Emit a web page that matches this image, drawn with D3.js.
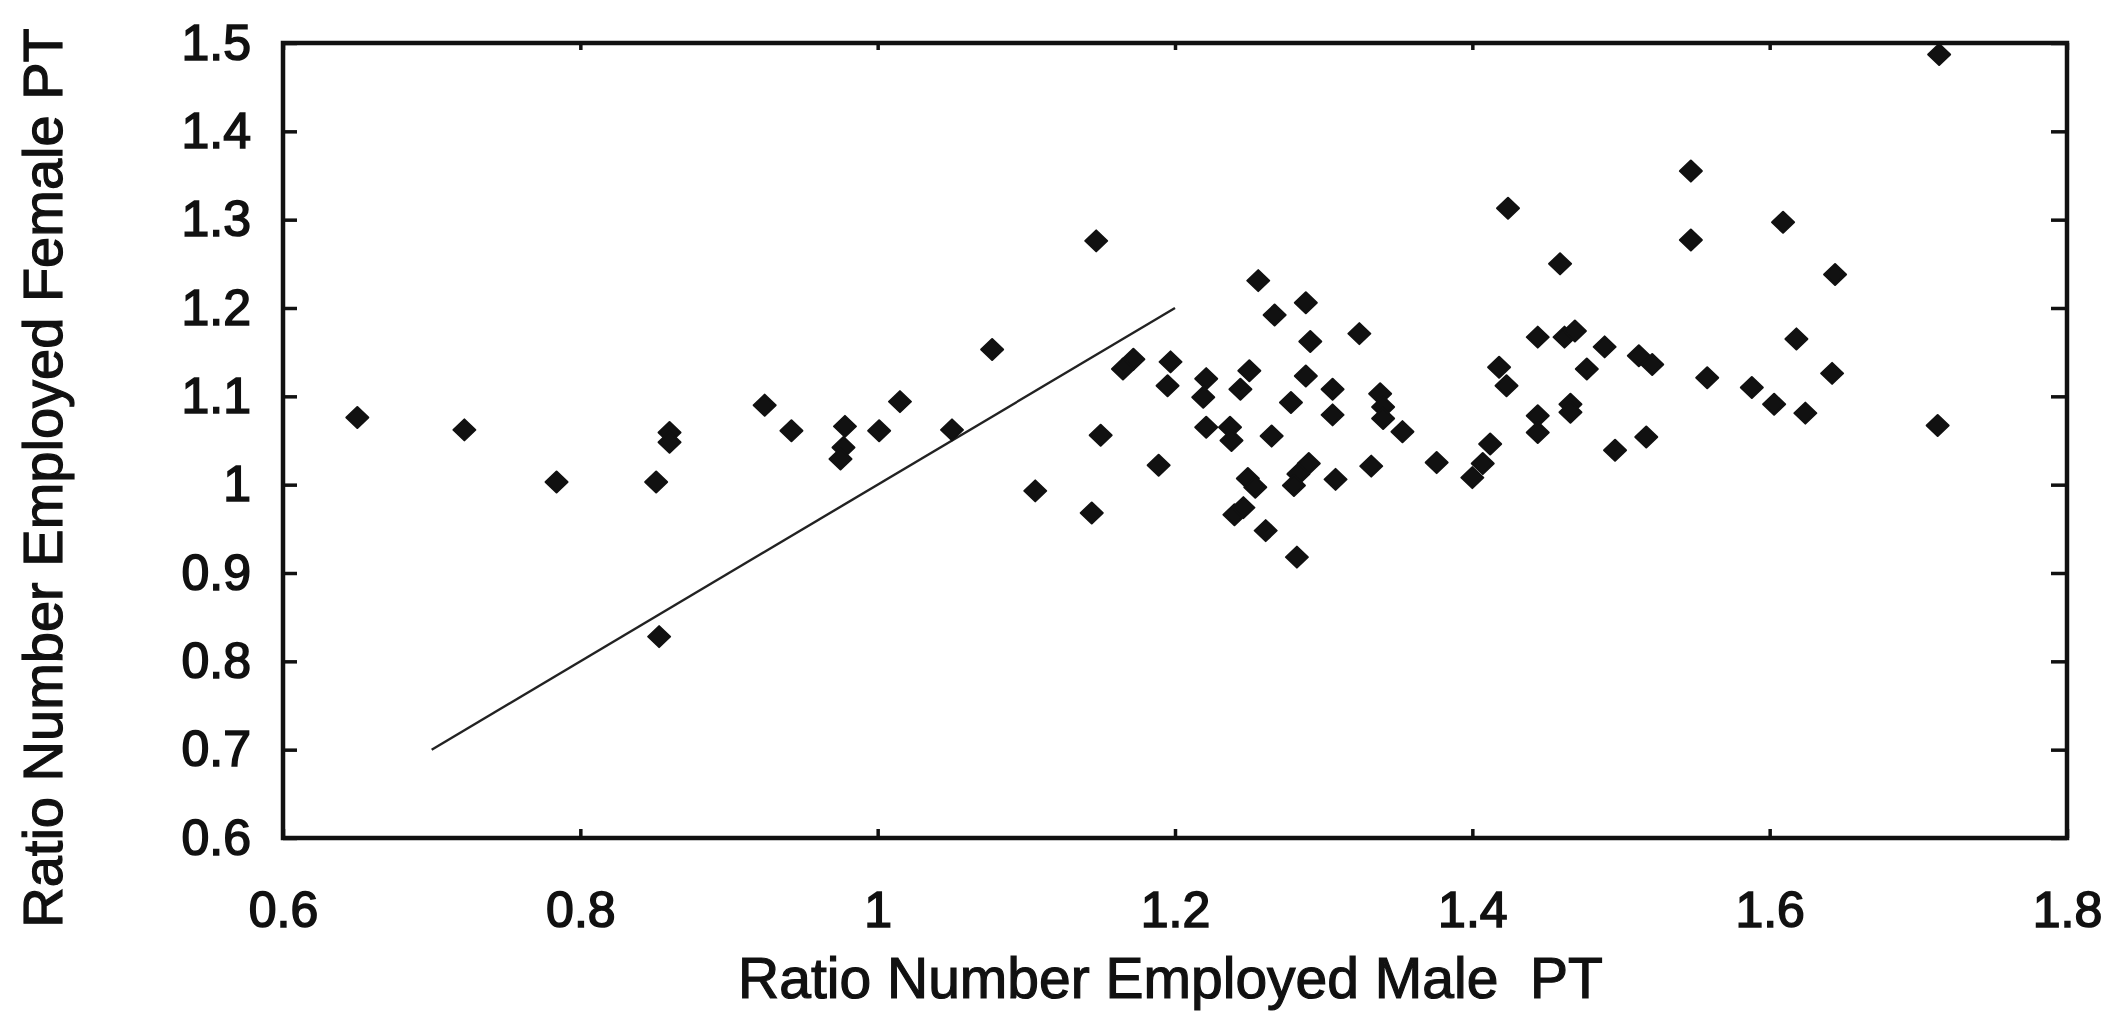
<!DOCTYPE html>
<html>
<head>
<meta charset="utf-8">
<script src="https://cdn.jsdelivr.net/npm/d3@7"></script>
<style>
  html, body { margin: 0; padding: 0; background: #fff; }
  svg { display: block; }
  text { font-family: "Liberation Sans", Arial, Helvetica, sans-serif; fill: #111; }
</style>
</head>
<body>
<svg id="chart" width="2113" height="1014"></svg>
<script>
// ---- Data ----
const maleRatio = [
  0.650, 0.722, 0.784, 0.851, 0.860, 0.860, 0.853, 0.924, 0.942, 0.978,
  0.977, 0.975, 1.001, 1.015, 1.050, 1.077, 1.147, 1.172, 1.165, 1.150,
  1.106, 1.144, 1.189, 1.197, 1.195, 1.221, 1.219, 1.221, 1.237, 1.238,
  1.250, 1.244, 1.256, 1.267, 1.288, 1.291, 1.288, 1.278, 1.265, 1.324,
  1.306, 1.306, 1.338, 1.340, 1.340, 1.353, 1.249, 1.254, 1.240, 1.246,
  1.261, 1.282, 1.290, 1.283, 1.280, 1.308, 1.332, 1.376, 1.412, 1.407,
  1.400, 1.424, 1.459, 1.444, 1.462, 1.469, 1.489, 1.477, 1.512, 1.521,
  1.418, 1.423, 1.444, 1.444, 1.466, 1.466, 1.517, 1.496, 1.547, 1.547,
  1.609, 1.644, 1.558, 1.588, 1.603, 1.624, 1.618, 1.642, 1.713, 1.714
];
const femaleRatio = [
  1.076, 1.062, 1.003, 1.003, 1.059, 1.048, 0.828, 1.090, 1.061, 1.066,
  1.042, 1.029, 1.061, 1.094, 1.062, 1.153, 1.276, 1.142, 1.131, 1.056,
  0.993, 0.968, 1.022, 1.139, 1.112, 1.120, 1.099, 1.065, 1.065, 1.050,
  1.129, 1.108, 1.231, 1.192, 1.206, 1.162, 1.123, 1.093, 1.055, 1.171,
  1.108, 1.079, 1.103, 1.088, 1.075, 1.060, 1.007, 0.997, 0.966, 0.974,
  0.948, 0.918, 1.024, 1.012, 0.999, 1.006, 1.021, 1.025, 1.046, 1.024,
  1.008, 1.313, 1.250, 1.167, 1.167, 1.174, 1.156, 1.131, 1.146, 1.136,
  1.133, 1.112, 1.078, 1.059, 1.091, 1.082, 1.054, 1.039, 1.355, 1.277,
  1.297, 1.238, 1.121, 1.110, 1.091, 1.081, 1.165, 1.126, 1.067, 1.487
];
const refLineX = [0.7, 1.2];   // y = x reference line
const refLineY = [0.7, 1.2];
const xTickValues = [0.6, 0.8, 1.0, 1.2, 1.4, 1.6, 1.8];
const xTickLabels = ["0.6", "0.8", "1", "1.2", "1.4", "1.6", "1.8"];
const yTickValues = [0.6, 0.7, 0.8, 0.9, 1.0, 1.1, 1.2, 1.3, 1.4, 1.5];
const yTickLabels = ["0.6", "0.7", "0.8", "0.9", "1", "1.1", "1.2", "1.3", "1.4", "1.5"];
const xTitle = "Ratio Number Employed Male  PT";
const yTitle = "Ratio Number Employed Female PT";

// ---- Layout ----
const L = 283, R = 2067, T = 43, B = 838;
const svg = d3.select("#chart");
const x = d3.scaleLinear().domain([0.6, 1.8]).range([L, R]);
const y = d3.scaleLinear().domain([0.6, 1.5]).range([B, T]);

const tickFont = 50;

// bottom axis (inward ticks)
const gx = svg.append("g").attr("transform", `translate(0,${B})`)
  .call(d3.axisBottom(x).tickValues(xTickValues)
    .tickFormat((d, i) => xTickLabels[i]).tickSize(-9).tickPadding(53));
// top axis ticks
const gxt = svg.append("g").attr("transform", `translate(0,${T})`)
  .call(d3.axisTop(x).tickValues(xTickValues).tickFormat("").tickSize(-7));
// left axis
const gy = svg.append("g").attr("transform", `translate(${L},0)`)
  .call(d3.axisLeft(y).tickValues(yTickValues)
    .tickFormat((d, i) => yTickLabels[i]).tickSize(-14).tickPadding(32));
// right axis ticks
const gyr = svg.append("g").attr("transform", `translate(${R},0)`)
  .call(d3.axisRight(y).tickValues(yTickValues).tickFormat("").tickSize(-16));

[gx, gxt, gy, gyr].forEach(g => {
  g.select(".domain").remove();
  g.selectAll(".tick line").attr("stroke", "#111").attr("stroke-width", 3.5);
  g.selectAll(".tick text")
    .style("font-family", '"Liberation Sans", Arial, sans-serif')
    .style("font-size", tickFont + "px")
    .attr("fill", "#111")
    .attr("stroke", "#111").attr("stroke-width", 1.6);
});

// frame
svg.append("rect")
  .attr("x", L).attr("y", T).attr("width", R - L).attr("height", B - T)
  .attr("fill", "none").attr("stroke", "#111").attr("stroke-width", 4.5);

// reference line y = x
svg.append("line")
  .attr("x1", x(refLineX[0])).attr("y1", y(refLineY[0]))
  .attr("x2", x(refLineX[1])).attr("y2", y(refLineY[1]))
  .attr("stroke", "#222").attr("stroke-width", 2.4);

// diamond markers
const hw = 11, hh = 10.5;
svg.append("g").selectAll("path")
  .data(maleRatio.map((m, i) => [m, femaleRatio[i]]))
  .join("path")
  .attr("transform", d => `translate(${x(d[0])},${y(d[1])})`)
  .attr("d", `M0,${-hh}L${hw},0L0,${hh}L${-hw},0Z`)
  .attr("fill", "#111")
  .attr("stroke", "#111").attr("stroke-width", 2).attr("stroke-linejoin", "round");

// axis titles
svg.append("text")
  .attr("x", (737 + 1604) / 2).attr("y", 998)
  .attr("text-anchor", "middle")
  .style("font-size", "57px")
  .style("white-space", "pre")
  .attr("xml:space", "preserve")
  .attr("stroke", "#111").attr("stroke-width", 1.2)
  .text(xTitle);

svg.append("text")
  .attr("transform", `translate(62,${478}) rotate(-90)`)
  .attr("text-anchor", "middle")
  .style("font-size", "56px")
  .attr("stroke", "#111").attr("stroke-width", 1.2)
  .text(yTitle);
</script>
</body>
</html>
